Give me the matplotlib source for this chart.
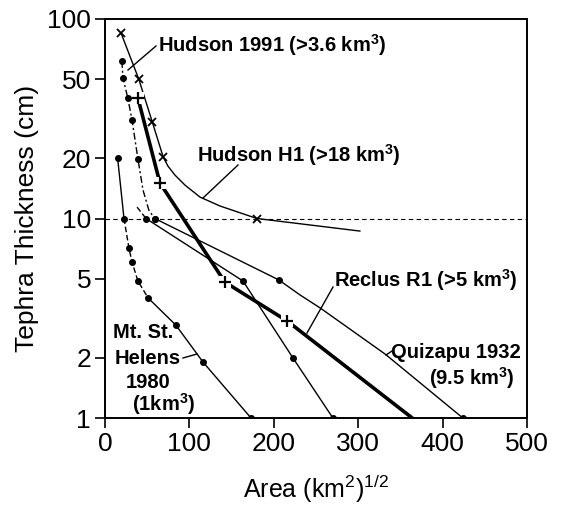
import matplotlib
matplotlib.use("Agg")
import matplotlib.pyplot as plt

plt.rcParams['font.family'] = ['Liberation Sans', 'DejaVu Sans']
plt.rcParams['mathtext.fontset'] = 'custom'
plt.rcParams['mathtext.rm'] = 'Liberation Sans'
plt.rcParams['mathtext.it'] = 'Liberation Sans'
plt.rcParams['mathtext.bf'] = 'Liberation Sans:bold'

# ---- data (x = sqrt(area) km, y = thickness cm) ----
# Mt. St. Helens 1980
msh_x = [15, 22.5, 28.4, 32, 39, 51, 84, 116, 173]
msh_y = [20, 10, 7.1, 6.05, 4.86, 4.0, 2.92, 1.91, 1.0]

# Hudson 1991, upper (dash-dot) part
h91u_line_x = [20, 21.3, 27, 32, 39, 45, 52, 58.8]
h91u_line_y = [61.6, 50.6, 40.2, 31.2, 19.9, 13.9, 11.0, 10]
h91u_pts_x = [20, 21.3, 27, 32, 39, 58.8]
h91u_pts_y = [61.6, 50.6, 40.2, 31.2, 19.9, 10]
# Hudson 1991, lower part
h91l_x = [48.6, 163.5, 222.7, 270]
h91l_y = [10, 4.86, 2.0, 1.0]

# Hudson H1
h1_line_x = [19, 40, 56, 69, 74.6, 82.9, 94.8, 112.6, 136.3, 180, 302]
h1_line_y = [85, 50, 30.5, 20.3, 18.3, 16.5, 14.7, 12.8, 11.55, 10, 8.65]
h1_pts_x = [19, 40, 56, 69, 180]
h1_pts_y = [85, 50, 30.5, 20.3, 10]

# Reclus R1
rec_line_x = [39, 65, 142, 216, 364]
rec_line_y = [40.2, 15.1, 4.8, 3.06, 1.0]
rec_pts_x = [39, 65, 142, 216]
rec_pts_y = [40.2, 15.1, 4.8, 3.06]

# Quizapu 1932
qz_dash_x = [38, 48.6]
qz_dash_y = [11.4, 10]
qz_line_x = [59, 206, 231, 255, 332, 424]
qz_line_y = [10, 4.92, 4.14, 3.56, 2.09, 1.0]
qz_pts_x = [59, 206, 424]
qz_pts_y = [10, 4.92, 1.0]

xticks = [0, 100, 200, 300, 400, 500]
yticks = [1, 2, 5, 10, 20, 50, 100]
ytick_labels = ['1', '2', '5', '10', '20', '50', '100']

fig = plt.figure(figsize=(5.62, 5.17), dpi=100)
ax = fig.add_axes([105/562, 1-418/517, (527-105)/562, (418-19)/517])
ax.set_yscale('log')
ax.set_xlim(0, 500)
ax.set_ylim(1, 100)

k = 'black'
# reference line at 10 cm
ax.axhline(10, color=k, lw=0.8, dashes=(4, 3), zorder=1)

# Mt St Helens
ax.plot(msh_x[:2], msh_y[:2], color=k, lw=1)
ax.plot(msh_x[1:6], msh_y[1:6], color=k, lw=1, dashes=(4, 2))
ax.plot(msh_x[5:], msh_y[5:], color=k, lw=1)
ax.plot(msh_x, msh_y, 'o', color=k, ms=4, zorder=4)

# Hudson 1991
ax.plot(h91u_line_x, h91u_line_y, color=k, lw=1, dashes=(5, 2, 1.5, 2))
ax.plot(h91u_pts_x, h91u_pts_y, 'o', color=k, ms=4, zorder=4)
ax.plot(h91l_x, h91l_y, color=k, lw=1, marker='o', ms=4)

# Hudson H1
ax.plot(h1_line_x, h1_line_y, color=k, lw=1)
ax.plot(h1_pts_x, h1_pts_y, 'x', color=k, ms=6, mew=1.3, zorder=4)

# Reclus R1
ax.plot(rec_line_x, rec_line_y, color=k, lw=2.6)
ax.plot(rec_pts_x, rec_pts_y, 's', color='white', ms=8, mew=0, zorder=3)
ax.plot(rec_pts_x, rec_pts_y, '+', color=k, ms=9, mew=1.6, zorder=4)

# Quizapu 1932
ax.plot(qz_dash_x, qz_dash_y, color=k, lw=1, dashes=(4, 2))
ax.plot(qz_line_x, qz_line_y, color=k, lw=1)
ax.plot(qz_pts_x, qz_pts_y, 'o', color=k, ms=4, zorder=4)

# axes styling
ax.set_xticks(xticks)
ax.set_yticks(yticks)
ax.set_yticklabels(ytick_labels)
ax.yaxis.set_minor_locator(matplotlib.ticker.NullLocator())
ax.tick_params(axis='both', which='major', direction='out', length=7, width=1.2,
               labelsize=19, colors=k, pad=3)
for s in ax.spines.values():
    s.set_linewidth(1.4)
ax.set_ylabel('Tephra Thickness (cm)', fontsize=19, labelpad=6)
ax.set_xlabel('Area (km$^2$)$^{1/2}$', fontsize=18, labelpad=12)

def px(xp, yp):
    return ax.transData.inverted().transform(
        fig.transFigure.transform((xp/562, 1-yp/517)))

fs = 14.5
sup3 = r'$^{\mathbf{3}}$'
ax.text(*px(158, 45), 'Hudson 1991 (>3.6 km' + sup3 + ')', fontsize=fs,
        fontweight='bold', va='center', ha='left')
ax.plot(*zip(px(156, 46), px(128, 70)), color=k, lw=1)

ax.text(*px(197, 155), 'Hudson H1 (>18 km' + sup3 + ')', fontsize=fs,
        fontweight='bold', va='center', ha='left')
ax.plot(*zip(px(238, 165), px(203, 198)), color=k, lw=1)

ax.text(*px(334, 280), 'Reclus R1 (>5 km' + sup3 + ')', fontsize=fs,
        fontweight='bold', va='center', ha='left')
ax.plot(*zip(px(333, 287), px(307, 333)), color=k, lw=1)

ax.text(*px(521, 353), 'Quizapu 1932', fontsize=fs, fontweight='bold',
        va='center', ha='right')
ax.text(*px(515, 378), '(9.5 km' + sup3 + ')', fontsize=fs, fontweight='bold',
        va='center', ha='right')
ax.plot(*zip(px(386, 355), px(392, 351)), color=k, lw=1)

ax.text(*px(143, 333), 'Mt. St.', fontsize=fs, fontweight='bold', va='center', ha='center')
ax.text(*px(148, 358), 'Helens', fontsize=fs, fontweight='bold', va='center', ha='center')
ax.text(*px(148, 382), '1980', fontsize=fs, fontweight='bold', va='center', ha='center')
ax.text(*px(164, 404), '(1km' + sup3 + ')', fontsize=fs, fontweight='bold', va='center', ha='center')
ax.plot(*zip(px(183, 358), px(197, 354)), color=k, lw=1)

fig.savefig('out.png', dpi=100)
